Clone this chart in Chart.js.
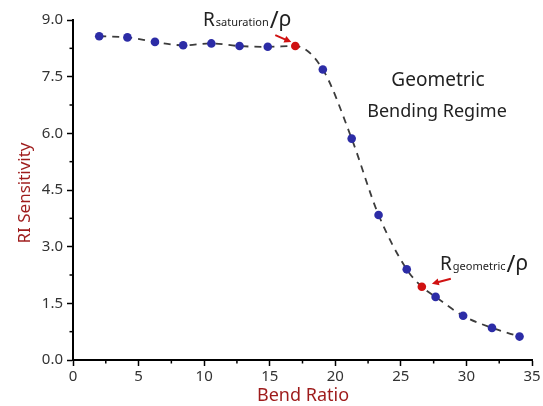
<!DOCTYPE html>
<html>
<head>
<meta charset="UTF-8" />
<title>RI Sensitivity vs Bend Ratio</title>
<script src="https://cdn.jsdelivr.net/npm/chart.js"></script>
<style>
  body { margin: 0; background: #fff; }
  #wrap { width: 543px; height: 406px; }
</style>
</head>
<body>
<div id="wrap"><canvas id="chart" width="543" height="406"></canvas></div>
<script>
  // values
  const bendRatio = [2.0, 4.15, 6.25, 8.4, 10.55, 12.7, 14.85, 16.95, 19.05, 21.25, 23.3, 25.45, 26.6, 27.65, 29.75, 31.95, 34.05];
  const riSensitivity = [8.57, 8.54, 8.42, 8.33, 8.38, 8.31, 8.29, 8.31, 7.69, 5.86, 3.84, 2.40, 1.94, 1.67, 1.17, 0.85, 0.62];
  const highlighted = [7, 12];   // R_saturation, R_geometric
  const xTicks = [0, 5, 10, 15, 20, 25, 30, 35];
  const yTicks = [0.0, 1.5, 3.0, 4.5, 6.0, 7.5, 9.0];

  const FONT = "'Noto Sans', sans-serif";
  const blue = '#2c2ca6', red = '#d01212', titleRed = '#9e1b1b';

  const points = bendRatio.map((x, i) => ({ x: x, y: riSensitivity[i] }));
  const colors = bendRatio.map((x, i) => highlighted.includes(i) ? red : blue);

  function arrow(ctx, x1, y1, x2, y2) {
    const a = Math.atan2(y2 - y1, x2 - x1);
    ctx.strokeStyle = red; ctx.fillStyle = red; ctx.lineWidth = 2;
    ctx.beginPath();
    ctx.moveTo(x1, y1);
    ctx.lineTo(x2 - 5 * Math.cos(a), y2 - 5 * Math.sin(a));
    ctx.stroke();
    ctx.beginPath();
    ctx.moveTo(x2, y2);
    ctx.lineTo(x2 - 7 * Math.cos(a) + 3.5 * Math.sin(a), y2 - 7 * Math.sin(a) - 3.5 * Math.cos(a));
    ctx.lineTo(x2 - 7 * Math.cos(a) - 3.5 * Math.sin(a), y2 - 7 * Math.sin(a) + 3.5 * Math.cos(a));
    ctx.closePath();
    ctx.fill();
  }

  // R with subscript then "/ρ"
  function ratioLabel(ctx, x, y, sub) {
    ctx.fillStyle = '#222';
    ctx.textAlign = 'left';
    ctx.textBaseline = 'alphabetic';
    ctx.font = '19px ' + FONT;
    ctx.fillText('R', x, y);
    x += ctx.measureText('R').width + 1;
    ctx.font = '11px ' + FONT;
    ctx.fillText(sub, x, y);
    x += ctx.measureText(sub).width + 1;
    ctx.font = '24px ' + FONT;
    ctx.fillText('/', x, y + 2);
    x += ctx.measureText('/').width;
    ctx.font = '21px ' + FONT;
    ctx.fillText('ρ', x, y);
  }

  const decor = {
    id: 'decor',
    afterDraw(chart) {
      const ctx = chart.ctx;
      const xs = chart.scales.x, ys = chart.scales.y;
      ctx.save();
      // minor ticks
      ctx.strokeStyle = '#000'; ctx.lineWidth = 1.5;
      for (let v = 2.5; v < 35; v += 5) {
        const px = xs.getPixelForValue(v);
        ctx.beginPath(); ctx.moveTo(px, xs.top); ctx.lineTo(px, xs.top + 3.5); ctx.stroke();
      }
      for (let v = 0.75; v < 9; v += 1.5) {
        const py = ys.getPixelForValue(v);
        ctx.beginPath(); ctx.moveTo(ys.right, py); ctx.lineTo(ys.right - 3.5, py); ctx.stroke();
      }
      // axis titles
      ctx.fillStyle = titleRed;
      ctx.font = '18px ' + FONT;
      ctx.textAlign = 'center'; ctx.textBaseline = 'middle';
      ctx.fillText('Bend Ratio', 303, 396);
      ctx.font = '17px ' + FONT;
      ctx.save();
      ctx.translate(25, 193);
      ctx.rotate(-Math.PI / 2);
      ctx.fillText('RI Sensitivity', 0, 0);
      ctx.restore();
      // regime label
      ctx.fillStyle = '#222';
      ctx.font = '19px ' + FONT;
      ctx.textBaseline = 'alphabetic';
      ctx.fillText('Geometric', 438, 86);
      ctx.font = '18px ' + FONT;
      ctx.fillText('Bending Regime', 437, 117);
      // annotations
      const sat = highlighted[0], geo = highlighted[1];
      const sx = xs.getPixelForValue(bendRatio[sat]), sy = ys.getPixelForValue(riSensitivity[sat]);
      const gx = xs.getPixelForValue(bendRatio[geo]), gy = ys.getPixelForValue(riSensitivity[geo]);
      arrow(ctx, sx - 20, sy - 11, sx - 4, sy - 4);
      arrow(ctx, gx + 29, gy - 8, gx + 10, gy - 3);
      ratioLabel(ctx, 203, 26, 'saturation');
      ratioLabel(ctx, 440, 270, 'geometric');
      ctx.restore();
    }
  };

  new Chart(document.getElementById('chart'), {
    type: 'scatter',
    data: {
      datasets: [{
        data: points,
        showLine: true,
        borderColor: '#3c3c3c',
        borderWidth: 1.8,
        borderDash: [7, 6],
        cubicInterpolationMode: 'monotone',
        pointRadius: 4.3,
        pointBorderWidth: 0,
        pointBackgroundColor: colors,
        pointBorderColor: colors
      }]
    },
    options: {
      responsive: false,
      animation: false,
      layout: { padding: { top: 20, right: 11, left: 0, bottom: 0 } },
      plugins: { legend: { display: false }, tooltip: { enabled: false } },
      scales: {
        x: {
          type: 'linear', min: 0, max: 35,
          afterFit(s) { s.height = 46; },
          afterBuildTicks(s) { s.ticks = xTicks.map(v => ({ value: v })); },
          border: { color: '#000', width: 2 },
          grid: { drawOnChartArea: false, drawTicks: true, tickLength: 6, tickColor: '#000', tickWidth: 1.5 },
          ticks: { color: '#333', font: { family: FONT, size: 15 }, padding: 2 }
        },
        y: {
          type: 'linear', min: 0, max: 9,
          afterFit(s) { s.width = 73; },
          afterBuildTicks(s) { s.ticks = yTicks.map(v => ({ value: v })); },
          border: { color: '#000', width: 2 },
          grid: { drawOnChartArea: false, drawTicks: true, tickLength: 6, tickColor: '#000', tickWidth: 1.5 },
          ticks: { color: '#333', font: { family: FONT, size: 15 }, padding: 4,
                   callback: v => Number(v).toFixed(1) }
        }
      }
    },
    plugins: [decor]
  });
</script>
</body>
</html>
